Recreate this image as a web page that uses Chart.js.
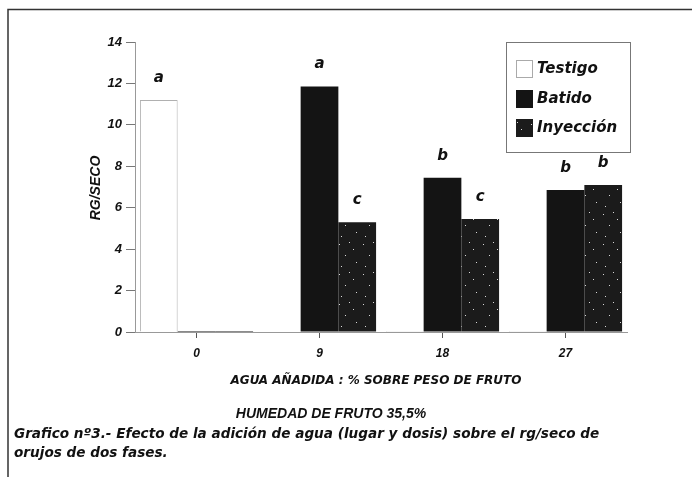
<!DOCTYPE html>
<html>
<head>
<meta charset="utf-8">
<script src="https://cdn.jsdelivr.net/npm/chart.js@4"></script>
<style>
  html, body { margin: 0; padding: 0; background: #fff; }
</style>
</head>
<body>
<canvas id="c" width="692" height="477"></canvas>
<script>
// datos
const categories = ["0", "9", "18", "27"];
const testigo = [11.2, 0, 0.05, 0.05];
const batido = [0.05, 11.85, 7.45, 6.85];
const inyeccion = [0.05, 5.3, 5.45, 7.1];
const letrasTestigo = ["a", "", "", ""];
const letrasBatido = ["", "a", "b", "b"];
const letrasInyeccion = ["", "c", "c", "b"];
const yTicks = [0, 2, 4, 6, 8, 10, 12, 14];

const FONT = "'Liberation Sans', Arial, sans-serif";
const WIDE = "'DejaVu Sans', sans-serif";
Chart.defaults.font.family = FONT;
Chart.defaults.color = "#111";

// trama moteada para Inyeccion
function speckle() {
  const c = document.createElement("canvas");
  c.width = 24; c.height = 30;
  const g = c.getContext("2d");
  g.fillStyle = "#1b1b1b";
  g.fillRect(0, 0, 24, 30);
  g.fillStyle = "#d8d8d8";
  [[3, 4], [17, 9], [9, 15], [20, 22], [5, 26], [13, 2]].forEach(p => g.fillRect(p[0], p[1], 1, 1));
  return g.createPattern(c, "repeat");
}
const pat = speckle();

const letras = {
  id: "letras",
  afterDatasetsDraw(chart) {
    const ctx = chart.ctx;
    const sets = [letrasTestigo, letrasBatido, letrasInyeccion];
    ctx.save();
    ctx.font = "italic bold 15px " + WIDE;
    ctx.textAlign = "center";
    ctx.textBaseline = "middle";
    ctx.fillStyle = "#111";
    sets.forEach((arr, di) => {
      chart.getDatasetMeta(di).data.forEach((bar, i) => {
        if (arr[i]) ctx.fillText(arr[i], bar.x, bar.y - 22);
      });
    });
    ctx.restore();
  }
};

const textos = {
  id: "textos",
  afterDraw(chart) {
    const ctx = chart.ctx;
    ctx.save();
    // marco
    ctx.strokeStyle = "#333";
    ctx.lineWidth = 1.5;
    ctx.beginPath();
    ctx.moveTo(8, 477);
    ctx.lineTo(8, 9.5);
    ctx.lineTo(692, 9.5);
    ctx.stroke();

    ctx.fillStyle = "#111";
    // titulo eje y
    ctx.save();
    ctx.translate(96, 188);
    ctx.rotate(-Math.PI / 2);
    ctx.textAlign = "center";
    ctx.textBaseline = "middle";
    ctx.font = "italic bold 14px " + FONT;
    ctx.fillText("RG/SECO", 0, 0);
    ctx.restore();

    ctx.textAlign = "center";
    ctx.textBaseline = "middle";
    ctx.font = "italic bold 12px " + WIDE;
    ctx.fillText("AGUA AÑADIDA : % SOBRE PESO DE FRUTO", 376, 381);
    ctx.font = "italic bold 14px " + FONT;
    ctx.fillText("HUMEDAD DE FRUTO 35,5%", 331, 414);

    ctx.textAlign = "left";
    ctx.font = "italic bold 13.6px " + WIDE;
    ctx.fillText("Grafico nº3.- Efecto de la adición de agua (lugar y dosis) sobre el rg/seco de", 14, 434);
    ctx.fillText("orujos de dos fases.", 14, 453);

    // leyenda
    ctx.strokeStyle = "#777";
    ctx.lineWidth = 1;
    ctx.strokeRect(506.5, 42.5, 124, 110);
    const items = chart.data.datasets;
    const ys = [69, 99, 128];
    ctx.font = "italic bold 15px " + WIDE;
    items.forEach((ds, i) => {
      ctx.fillStyle = ds.backgroundColor;
      ctx.fillRect(516, ys[i] - 9, 17, 18);
      if (i === 0) {
        ctx.strokeStyle = "#aaa";
        ctx.strokeRect(516.5, ys[i] - 8.5, 16, 17);
      }
      ctx.fillStyle = "#111";
      ctx.fillText(ds.label, 537, ys[i]);
    });
    ctx.restore();
  }
};

new Chart(document.getElementById("c"), {
  type: "bar",
  data: {
    labels: categories,
    datasets: [
      { label: "Testigo", data: testigo, backgroundColor: "#ffffff", borderColor: "#b0b0b0", borderWidth: 1 },
      { label: "Batido", data: batido, backgroundColor: "#141414", borderWidth: 0 },
      { label: "Inyección", data: inyeccion, backgroundColor: pat, borderWidth: 0 }
    ]
  },
  options: {
    responsive: false,
    animation: false,
    layout: { padding: { left: 0, top: 42, right: 65, bottom: 0 } },
    datasets: { bar: { categoryPercentage: 0.92, barPercentage: 1 } },
    plugins: { legend: { display: false }, tooltip: { enabled: false } },
    scales: {
      x: {
        afterFit(s) { s.height = 145; },
        border: { color: "#999" },
        grid: { drawOnChartArea: false, offset: false, tickLength: 6, color: "#555" },
        ticks: { font: { size: 12, style: "italic", weight: "bold" }, padding: 8 }
      },
      y: {
        min: 0,
        max: 14,
        afterFit(s) { s.width = 135; },
        afterBuildTicks(s) { s.ticks = yTicks.map(v => ({ value: v })); },
        border: { color: "#999" },
        grid: { drawOnChartArea: false, tickLength: 9, color: "#777" },
        ticks: { font: { size: 13, style: "italic", weight: "bold" }, padding: 4 }
      }
    }
  },
  plugins: [letras, textos]
});
</script>
</body>
</html>
